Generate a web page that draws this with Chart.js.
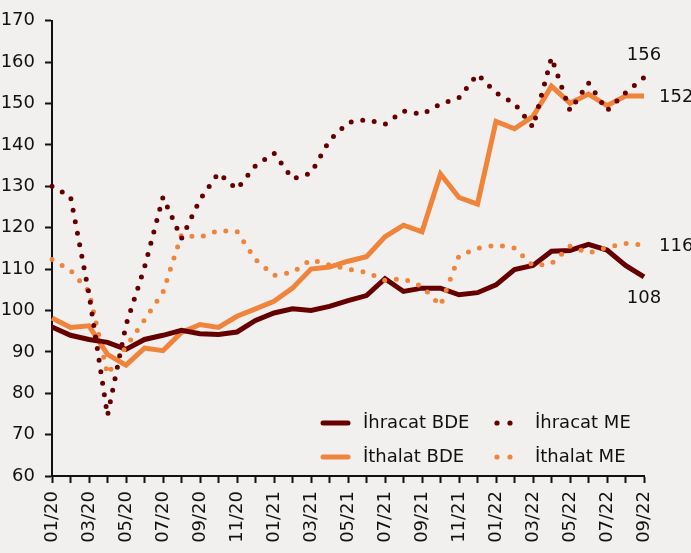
<!DOCTYPE html>
<html>
<head>
<meta charset="utf-8">
<script src="https://cdn.jsdelivr.net/npm/chart.js@4/dist/chart.umd.min.js"></script>
<style>
  html, body { margin: 0; padding: 0; background: #f2f0ef; }
  #wrap { width: 691px; height: 553px; }
</style>
</head>
<body>
<div id="wrap"><canvas id="chart1"></canvas></div>
<script>
// Aylar (01/20 - 09/22)
const aylar = ['01/20','02/20','03/20','04/20','05/20','06/20','07/20','08/20','09/20','10/20','11/20','12/20',
  '01/21','02/21','03/21','04/21','05/21','06/21','07/21','08/21','09/21','10/21','11/21','12/21',
  '01/22','02/22','03/22','04/22','05/22','06/22','07/22','08/22','09/22'];

const ihracatBDE = [96, 94, 93, 92.3, 90.6, 93, 94, 95.2, 94.4, 94.2, 94.8, 97.6, 99.4, 100.4, 100, 101, 102.4,
  103.6, 107.7, 104.6, 105.4, 105.4, 103.8, 104.3, 106.2, 109.9, 110.9, 114.3, 114.5, 116, 114.6, 110.9, 108.1];
const ithalatBDE = [98.2, 95.9, 96.3, 89.4, 86.8, 90.9, 90.3, 94.7, 96.6, 95.9, 98.6, 100.4, 102.2, 105.4, 110, 110.5, 111.9,
  113, 117.8, 120.6, 119, 133, 127.3, 125.7, 145.7, 143.9, 146.9, 154.2, 150.1, 152.3, 149.5, 151.8, 151.8];
const ihracatME = [130, 127.5, 104, 74.6, 96.5, 110.4, 127.4, 117.4, 126.8, 133.2, 129.3, 135, 138, 131.8, 133.2, 141.1, 145.4,
  146.1, 145, 148.2, 147.4, 149.9, 151.4, 157.1, 152.6, 150, 144.3, 161.1, 148.3, 155, 148.3, 152.6, 156.3];
const ithalatME = [112.3, 109.7, 104.6, 84.6, 91.2, 97.7, 104.4, 118.3, 117.7, 119.3, 119.1, 112.3, 108.5, 109.2, 112.3, 111, 110,
  109.2, 107.3, 107.7, 105.8, 101.2, 113.2, 115, 115.8, 115.1, 110.8, 111.3, 115.5, 113.9, 115.2, 116.2, 115.8];

// Son değer etiketleri
const sonEtiketler = ['108', '152', '156', '116'];

const KOYU = '#660000';
const TURUNCU = '#f0843a';
const FONT = '"DejaVu Sans", sans-serif';

// Lejant ve son değer etiketleri için küçük eklenti
const etiketPlugin = {
  id: 'etiketler',
  afterDatasetsDraw(chart) {
    const ctx = chart.ctx;
    const x = chart.scales.x, y = chart.scales.y;
    const son = aylar.length - 1;
    const px = x.getPixelForValue(son);
    ctx.save();
    ctx.fillStyle = '#111';
    ctx.font = '18px ' + FONT;
    ctx.textBaseline = 'middle';
    // 108 (altında), 152 (sağında), 156 (üstünde), 116 (sağında)
    ctx.textAlign = 'center';
    ctx.fillText(sonEtiketler[0], px, y.getPixelForValue(ihracatBDE[son]) + 21);
    ctx.fillText(sonEtiketler[2], px, y.getPixelForValue(ihracatME[son]) - 22);
    ctx.textAlign = 'left';
    ctx.fillText(sonEtiketler[1], px + 15, y.getPixelForValue(ithalatBDE[son]) + 1);
    ctx.fillText(sonEtiketler[3], px + 15, y.getPixelForValue(ithalatME[son]) + 1);

    // Lejant
    const ca = chart.chartArea;
    const rows = [ca.bottom - 53, ca.bottom - 19];
    const items = [
      { ds: 0, col: 0, row: 0 }, { ds: 2, col: 1, row: 0 },
      { ds: 1, col: 0, row: 1 }, { ds: 3, col: 1, row: 1 }
    ];
    items.forEach(it => {
      const d = chart.data.datasets[it.ds];
      const yy = rows[it.row];
      ctx.strokeStyle = d.borderColor;
      ctx.fillStyle = d.borderColor;
      if (it.col === 0) {
        const x0 = ca.right - 321;
        ctx.lineWidth = 5;
        ctx.lineCap = 'round';
        ctx.beginPath();
        ctx.moveTo(x0, yy);
        ctx.lineTo(x0 + 25, yy);
        ctx.stroke();
        ctx.fillStyle = '#111';
        ctx.fillText(d.label, x0 + 40, yy);
      } else {
        const x0 = ca.right - 147;
        [0, 13].forEach(dx => {
          ctx.beginPath();
          ctx.arc(x0 + dx, yy, 2.6, 0, Math.PI * 2);
          ctx.fill();
        });
        ctx.fillStyle = '#111';
        ctx.fillText(d.label, x0 + 38, yy);
      }
    });
    ctx.restore();
  }
};

const ctx = document.getElementById('chart1').getContext('2d');
new Chart(ctx, {
  type: 'line',
  data: {
    labels: aylar,
    datasets: [
      { label: 'İhracat BDE', data: ihracatBDE, borderColor: KOYU, borderWidth: 5, order: 2 },
      { label: 'İthalat BDE', data: ithalatBDE, borderColor: TURUNCU, borderWidth: 5, order: 3 },
      { label: 'İhracat ME', data: ihracatME, borderColor: KOYU, borderWidth: 5,
        borderDash: [0, 11.7], borderCapStyle: 'round', order: 0 },
      { label: 'İthalat ME', data: ithalatME, borderColor: TURUNCU, borderWidth: 5,
        borderDash: [0, 11.7], borderCapStyle: 'round', order: 1 }
    ]
  },
  options: {
    responsive: true,
    maintainAspectRatio: false,
    animation: false,
    elements: { point: { radius: 0 }, line: { tension: 0 } },
    layout: { padding: { top: 13, right: 47, left: 0, bottom: 0 } },
    scales: {
      x: {
        offset: false,
        border: { color: '#111', width: 2 },
        grid: { display: true, drawOnChartArea: false, tickLength: 7, tickColor: '#111', tickWidth: 2 },
        ticks: {
          autoSkip: false, maxRotation: 90, minRotation: 90, padding: 8,
          color: '#111', font: { size: 18, family: FONT },
          callback: (v, i) => (i % 2 === 0 ? aylar[i] : '')
        },
        afterFit: s => { s.height = 77; }
      },
      y: {
        min: 60, max: 170,
        border: { color: '#111', width: 2 },
        grid: { display: true, drawOnChartArea: false, tickLength: 7, tickColor: '#111', tickWidth: 2 },
        ticks: { stepSize: 10, padding: 10, color: '#111', font: { size: 18, family: FONT } },
        afterFit: s => { s.width = 52; }
      }
    },
    plugins: {
      legend: { display: false },
      tooltip: { enabled: false }
    }
  },
  plugins: [etiketPlugin]
});
</script>
</body>
</html>
